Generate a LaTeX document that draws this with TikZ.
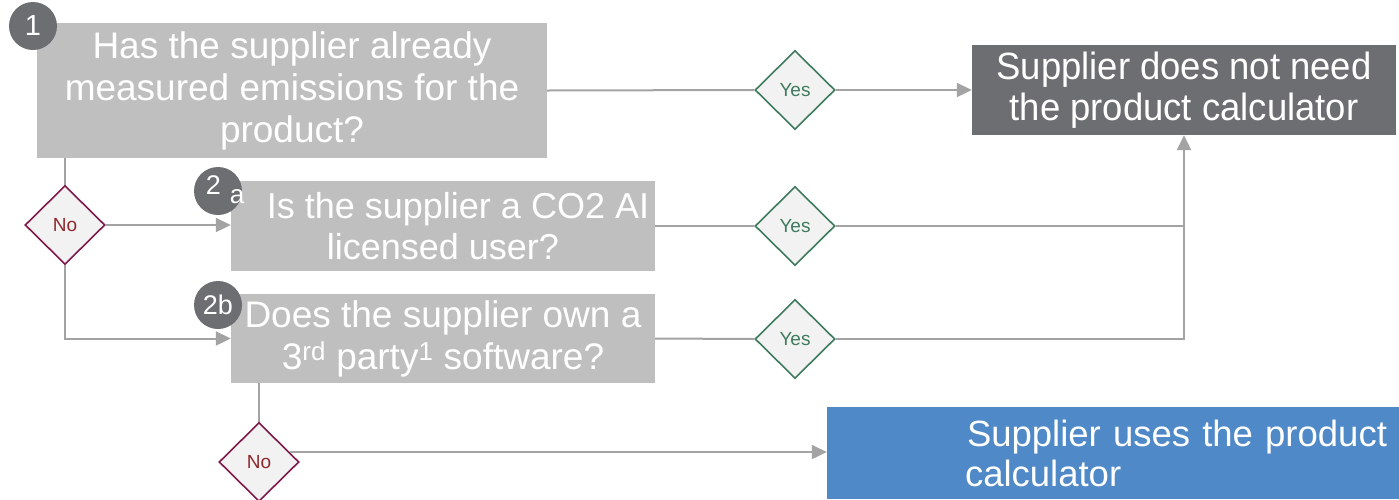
\documentclass[tikz,border=0pt]{standalone}
\usepackage{fontspec}
\setmainfont{Liberation Sans}
\newfontfamily\narrowfont[FakeStretch=0.96]{Liberation Sans}
\usetikzlibrary{shapes.geometric,arrows.meta}
\definecolor{boxgray}{HTML}{BFBFBF}
\definecolor{darkgray}{HTML}{6D6E71}
\definecolor{bluebox}{HTML}{4F89C7}
\definecolor{dfill}{HTML}{F2F2F2}
\definecolor{yesgreen}{HTML}{3E7B5F}
\definecolor{noborder}{HTML}{7E1A4C}
\definecolor{notext}{HTML}{8E2A2E}
\definecolor{linegray}{HTML}{A3A3A3}
\tikzset{
  qbox/.style={rectangle, fill=boxgray, text=white, inner sep=0, align=center,
    font=\fontsize{37}{42}\selectfont},
  resbox/.style={rectangle, fill=darkgray, text=white, inner sep=0, align=center,
    font=\narrowfont\fontsize{38}{42}\selectfont},
  bluebx/.style={rectangle, fill=bluebox, text=white, inner sep=0, align=left,
    font=\fontsize{36.5}{40}\selectfont},
  numcirc/.style={circle, fill=darkgray, text=white, inner sep=0, minimum size=48},
  yesd/.style={diamond, draw=yesgreen, fill=dfill, line width=1.6, text=yesgreen,
    inner sep=0, minimum width=80, minimum height=79, font=\fontsize{19}{19}\selectfont},
  nod/.style={diamond, draw=noborder, fill=dfill, line width=1.6, text=notext,
    inner sep=0, minimum width=80, minimum height=79, font=\fontsize{19}{19}\selectfont},
  conn/.style={draw=linegray, line width=2},
  arr/.style={conn, -{Triangle[length=15,width=14]}, linegray},
}
\begin{document}
\begin{tikzpicture}[x=1pt,y=-1pt]
\useasboundingbox (0,0) rectangle (1399,499);
\coordinate (n1c) at (65,225);
\coordinate (n2c) at (259,462);
% boxes
\node[qbox, minimum width=510, minimum height=135] (b1) at (292,90.5)
  {Has the supplier already\\measured emissions for the\\product?};
\node[qbox, minimum width=424, minimum height=90, font=\fontsize{36}{41}\selectfont] (b2a) at (443,226)
  {\hspace*{30pt}Is the supplier a CO2 AI\\licensed user?};
\node[qbox, minimum width=424, minimum height=89] (b2b) at (443,338.5)
  {Does the supplier own a\\3\textsuperscript{rd} party\textsuperscript{1} software?};
\node[resbox, minimum width=424, minimum height=90] (r1) at (1184,90)
  {\raisebox{-1pt}{Supplier does not need}\\the product calculator};
\node[bluebx, text width=572, minimum height=92] (r2) at (1113,453)
  {\hspace*{140pt}Supplier uses the product\\\hspace*{138pt}calculator};
% connectors
\draw[conn] (b1.south -| n1c) -- (n1c);
\draw[conn] (b2b.south -| n2c) -- (n2c);
\node[yesd] (y1) at (795,90) {Yes};
\node[yesd] (y2) at (795,226) {Yes};
\node[yesd] (y3) at (795,339) {Yes};
\draw[conn] (b1.east) -- (y1.west);
\draw[arr] (y1.east) -- (r1.west);
\draw[conn] (b2a.east) -- (y2.west);
\draw[conn] (y2.east) -- (y2.east -| r1.south);
\draw[conn] (b2b.east) -- (y3.west);
\draw[arr] (y3.east) -| (r1.south);
\node[nod] (n1) at (n1c) {No};
\node[nod] (n2) at (n2c) {No};
\draw[arr] (n1.east) -- (n1.east -| b2a.west);
\draw[arr] (n1.south) |- (b2b.west);
\draw[arr] (n2.18.4) -- (n2.18.4 -| r2.west);
% number circles
\node[numcirc, font=\fontsize{29}{29}\selectfont] (c1) at (33,26) {1};
\node[numcirc] (c2a) at (218,191) {};
\node[text=white, inner sep=0, font=\fontsize{27}{27}\selectfont] (t2a) at (225,190)
  {2\hspace{9pt}\raisebox{-9pt}{\fontsize{26}{26}\selectfont a}};
\node[numcirc, font=\fontsize{27}{27}\selectfont] (c2b) at (218,305) {2b};
\end{tikzpicture}
\end{document}
